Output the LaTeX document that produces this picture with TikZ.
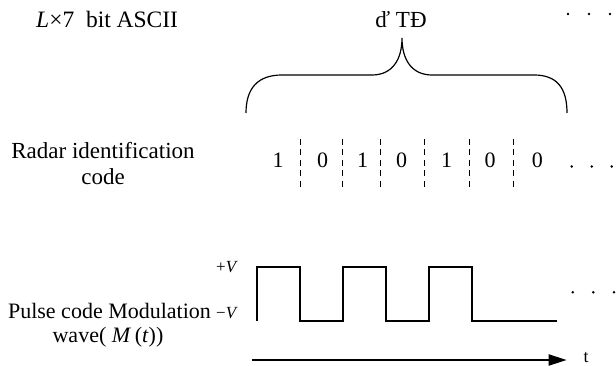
\documentclass[tikz,border=0pt]{standalone}
\usepackage{fontspec}
\setmainfont{Liberation Serif}
\usetikzlibrary{arrows.meta}
\tikzset{
  lbl/.style={inner sep=0pt, font=\fontsize{22}{26}\selectfont},
  bit/.style={inner sep=0pt, anchor=base, font=\fontsize{22}{26}\selectfont},
  lvl/.style={inner sep=0pt, anchor=east, font=\fontsize{17}{20}\selectfont},
  sep/.style={line width=0.9pt, dash pattern=on 6pt off 4.5pt},
  brace/.style={line width=1.2pt},
  wave/.style={line width=2pt, line join=miter},
  dotmark/.style={fill=black},
  axis/.style={line width=2pt, -{Triangle[length=18pt,width=11pt]}}
}
\begin{document}
\begin{tikzpicture}[x=1pt,y=-1pt]
\useasboundingbox (0,0) rectangle (616,366);
% top row
\node[lbl, anchor=base west, font=\fontsize{23.5}{26}\selectfont] (ascii) at (36,28) {\textit{L}×7\ \ bit ASCII};
\node[lbl, anchor=base, font=\fontsize{23}{26}\selectfont] (byte) at (401,28) {ď TĐ};
\fill[dotmark] (568,14) circle (1.4) (589,14) circle (1.4) (610,14) circle (1.4);
% brace
\draw[brace] (246,113) .. controls (246,88) and (258,75) .. (282,75) -- (372,75)
  .. controls (392,75) and (402,60) .. (402,38)
  .. controls (402,60) and (412,75) .. (432,75) -- (534,75)
  .. controls (557,75) and (567,88) .. (567,113);
% row 2
\node[lbl, anchor=base, font=\fontsize{23}{26}\selectfont] (rad1) at (103,159) {Radar identification};
\node[lbl, anchor=base, font=\fontsize{23}{26}\selectfont] (rad2) at (103,185) {code};
\node[bit] (b1) at (278,168) {1};
\node[bit] (b2) at (322.7,168) {0};
\node[bit] (b3) at (362.7,168) {1};
\node[bit] (b4) at (401.7,168) {0};
\node[bit] (b5) at (446.7,168) {1};
\node[bit] (b6) at (490,168) {0};
\node[bit] (b7) at (537.3,168) {0};
\foreach \x in {300.7,342.7,380.7,424,469.3,513.3}
  \draw[sep] (\x,139) -- (\x,187);
\fill[dotmark] (571.7,166.5) circle (1.4) (591.7,166.5) circle (1.4) (611.7,166.5) circle (1.4);
% row 3
\node[lbl, anchor=base] (pcm1) at (109.5,318) {Pulse code Modulation};
\node[lbl, anchor=base] (pcm2) at (108,342) {wave( \textit{M}\,(\textit{t}))};
\node[lvl] (vp) at (238,267) {+\textit{V}};
\node[lvl] (vm) at (238,313) {−\textit{V}};
\draw[wave] (257.3,320.7) -- (257.3,267.3) -- (300,267.3) -- (300,320.7) -- (342.7,320.7)
  -- (342.7,267.3) -- (385.7,267.3) -- (385.7,320.7) -- (429.3,320.7) -- (429.3,267.3)
  -- (471.7,267.3) -- (471.7,320.7) -- (556.7,320.7);
\fill[dotmark] (572.7,292.3) circle (1.4) (593.3,292.3) circle (1.4) (614,292.3) circle (1.4);
\coordinate (tstart) at (251.7,360);
\coordinate (tend) at (566.7,360);
\draw[axis] (tstart) -- (tend);
\node[inner sep=0pt, anchor=base, font=\fontsize{18}{22}\selectfont] (tlab) at (586,362) {t};
\end{tikzpicture}
\end{document}
